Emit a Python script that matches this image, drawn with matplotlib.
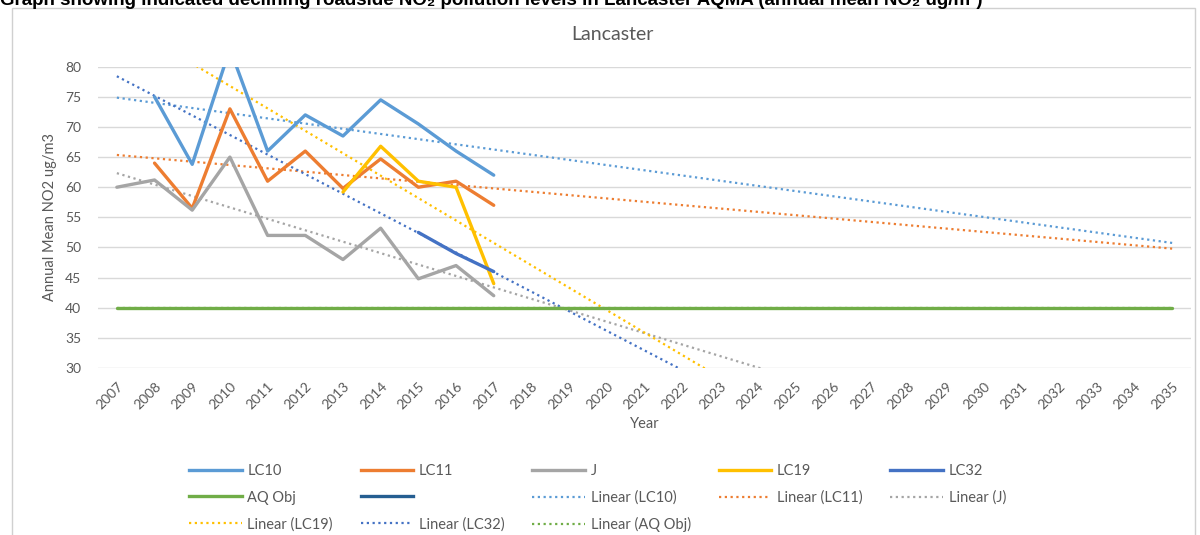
"""
Lancaster AQMA - annual mean NO2 per site with Excel-style linear trendlines.
Output: out.png
"""

import numpy as np
import matplotlib
matplotlib.use("Agg")
import matplotlib.pyplot as plt
from matplotlib.lines import Line2D
from matplotlib.patches import Rectangle

plt.rcParams["font.family"] = ["Lato", "DejaVu Sans"]

# ── Data ─────────────────────────────────────────────────────────────────────
years = list(range(2007, 2036))

lc10_years = [2008, 2009, 2010, 2011, 2012, 2013, 2014, 2015, 2016, 2017]
lc10 = [75, 63.8, 83, 66, 72, 68.5, 74.5, 70.5, 66, 62]

lc11_years = [2008, 2009, 2010, 2011, 2012, 2013, 2014, 2015, 2016, 2017]
lc11 = [64, 56.5, 73, 61, 66, 59.8, 64.7, 60, 61, 57]

j_years = [2007, 2008, 2009, 2010, 2011, 2012, 2013, 2014, 2015, 2016, 2017]
j_vals = [60, 61.2, 56.2, 65, 52, 52, 48, 53.2, 44.8, 47, 42]

lc19_years = [2013, 2014, 2015, 2016, 2017]
lc19 = [59.2, 66.8, 61, 60, 44]

lc32_years = [2015, 2016, 2017]
lc32 = [52.5, 49, 46]

aq_obj = [40] * len(years)

C_LC10 = "#5B9BD5"
C_LC11 = "#ED7D31"
C_J = "#A5A5A5"
C_LC19 = "#FFC000"
C_LC32 = "#4472C4"
C_AQ = "#70AD47"
C_BLANK = "#255E91"
TXT = "#595959"

DOT = (0, (1, 1.6))

fig = plt.figure(figsize=(12, 5.35), dpi=100)

# chart area border + heading above it (cut off at the top, as in the source)
fig.patches.append(Rectangle((12 / 1200, -0.05), 1183 / 1200, 1.05 - 8 / 535,
                             transform=fig.transFigure, fill=False,
                             edgecolor="#D0D0D0", linewidth=1))
fig.text(0.0, 1 - 5 / 535,
         "Graph showing indicated declining roadside NO\u2082 pollution levels in "
         "Lancaster AQMA (annual mean NO\u2082 ug/m\u00b3)",
         fontsize=13.5, fontweight="bold", family=["Liberation Sans", "DejaVu Sans"],
         va="baseline", ha="left", color="black")

ax = fig.add_axes([98 / 1200, 1 - 368 / 535, 1093 / 1200, (368 - 66.7) / 535])


def trend(xs, ys):
    k, b = np.polyfit(xs, ys, 1)
    xx = np.array([years[0], years[-1]], dtype=float)
    return xx, k * xx + b


# ── Series ───────────────────────────────────────────────────────────────────
series = [
    ("LC10", lc10_years, lc10, C_LC10),
    ("LC11", lc11_years, lc11, C_LC11),
    ("J", j_years, j_vals, C_J),
    ("LC19", lc19_years, lc19, C_LC19),
    ("LC32", lc32_years, lc32, C_LC32),
]

# trendlines first (drawn under the data)
for name, xs, ys, col in series + [("AQ Obj", years, aq_obj, C_AQ)]:
    tx, ty = trend(xs, ys)
    ax.plot(tx, ty, color=col, linestyle=DOT, linewidth=1.6, zorder=2)

ax.plot(years, aq_obj, color=C_AQ, linewidth=2.4, solid_capstyle="round", zorder=3)
for name, xs, ys, col in series:
    ax.plot(xs, ys, color=col, linewidth=2.4, solid_capstyle="round",
            solid_joinstyle="round", zorder=4)

ax.set_xlim(years[0] - 0.5, years[-1] + 0.5)
ax.set_ylim(30, 80)
ax.set_yticks(range(30, 81, 5))
ax.set_xticks(years)
ax.set_xticklabels([str(y) for y in years], rotation=45, ha="right",
                   va="top", rotation_mode="anchor")
ax.tick_params(length=0, labelsize=10, colors=TXT)
ax.tick_params(axis="x", pad=9)
ax.tick_params(axis="y", pad=12)
ax.grid(axis="y", color="#D9D9D9", linewidth=1)
ax.set_axisbelow(True)
for s in ax.spines.values():
    s.set_visible(False)

ax.set_ylabel("Annual Mean NO2 ug/m3", fontsize=10.5, color=TXT, labelpad=6)
ax.set_xlabel("Year", fontsize=10.5, color=TXT, labelpad=4)
fig.text(612 / 1200, 1 - 35 / 535, "Lancaster", fontsize=14, color=TXT,
         ha="center", va="center")

# ── Legend (row order as in Excel, matplotlib fills column-wise) ─────────────
solid = lambda c: Line2D([], [], color=c, linewidth=2.4)
dotted = lambda c: Line2D([], [], color=c, linewidth=1.6, linestyle=DOT)
handles = [
    solid(C_LC10), solid(C_AQ), dotted(C_LC19),
    solid(C_LC11), solid(C_BLANK), dotted(C_LC32),
    solid(C_J), dotted(C_LC10), dotted(C_AQ),
    solid(C_LC19), dotted(C_LC11),
    solid(C_LC32), dotted(C_J),
]
labels = [
    "LC10", "AQ Obj", "Linear (LC19)",
    "LC11", " ", "Linear (LC32)",
    "J", "Linear (LC10)", "Linear (AQ Obj)",
    "LC19", "Linear (LC11)",
    "LC32", "Linear (J)",
]
leg = fig.legend(handles, labels, ncol=5, loc="upper left",
                 bbox_to_anchor=(176 / 1200, 1 - 451 / 535), frameon=False,
                 fontsize=10.5, handlelength=3.6, handletextpad=0.4,
                 columnspacing=1.9, labelspacing=0.85, labelcolor=TXT)

fig.savefig("out.png", dpi=100)
